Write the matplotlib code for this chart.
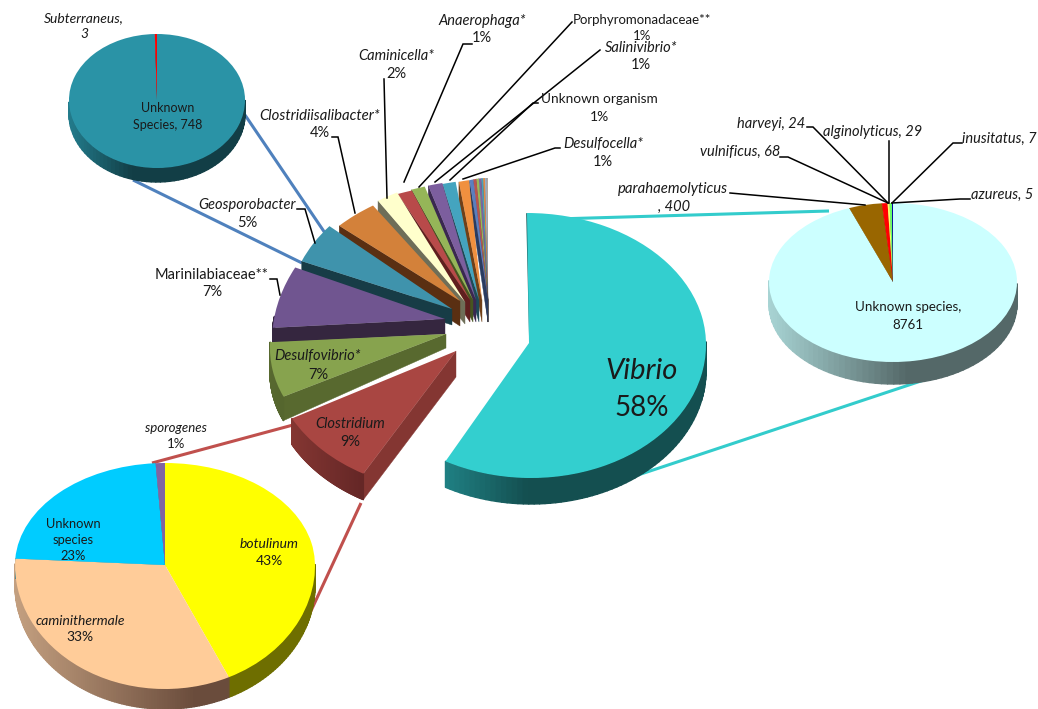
import numpy as np
import matplotlib
matplotlib.use('Agg')
import matplotlib.pyplot as plt
from matplotlib.collections import PolyCollection
from matplotlib.colors import to_rgb
from matplotlib.transforms import Affine2D, Transform

plt.rcParams['font.family'] = ['Lato', 'DejaVu Sans']

# main pie, clockwise from 12 o'clock
main_names = ['Vibrio', 'Clostridium', 'Desulfovibrio*', 'Marinilabiaceae**', 'Geosporobacter',
              'Clostridiisalibacter*', 'Caminicella*', 'Anaerophaga*', 'Porphyromonadaceae**',
              'Salinivibrio*', 'Unknown organism', 'Desulfocella*',
              'o1', 'o2', 'o3', 'o4', 'o5', 'o6', 'o7', 'o8']
main_values = [58, 9, 7, 7, 5, 4, 2, 1, 1, 1, 1, 1, 0.6, 0.5, 0.4, 0.4, 0.3, 0.3, 0.3, 0.2]
main_colors = ['#33CFCF', '#A94642', '#87A34E', '#705590', '#3F93AC', '#D3813A', '#FFFFCC',
               '#B84A4A', '#95B558', '#7C5E9E', '#44A4BF', '#F0903F',
               '#5B7FBF', '#B85450', '#98B957', '#7C64A0', '#46A0B8', '#E08A45', '#9DB0C8', '#B0A8A0']
main_walls = ['#1F7F82', '#843632', '#58692F', '#35263F', '#173C46', '#5A2F12', '#6E6E58',
              '#5F1F1F', '#46551F', '#3A2850', '#1E4A57', '#704018',
              '#2A3C60', '#5A2A28', '#4A5A2A', '#3C3050', '#22505C', '#704522', '#505868', '#585450']
main_walls_dark = ['#144F50', '#5F2424', '#46552A', '#2A1E34', '#173C46', '#5A2F12', '#6E6E58',
                   '#5F1F1F', '#46551F', '#3A2850', '#1E4A57', '#704018',
                   '#2A3C60', '#5A2A28', '#4A5A2A', '#3C3050', '#22505C', '#704522', '#505868', '#585450']

# each main slice sits on its own sheared ellipse (perspective fan)
fan_cx = [529, 456, 446, 445, 452, 460, 465, 470, 473, 476, 479, 482, 488, 488, 488, 488, 488, 488, 488, 488]
fan_cy = [343, 351, 334, 319, 309, 301, 302, 300, 300, 300, 300, 300, 300, 300, 300, 300, 300, 300, 300, 300]
fan_rx = [177, 185, 175, 171, 164, 170, 170, 228, 212, 223, 207, 159, 98, 98, 98, 98, 98, 98, 98, 98]
fan_skew = [-2, 4, 19, 25, 6, 16, 16, 43, 32, 37, 29, 17, 0, 0, 0, 0, 0, 0, 0, 0]
fan_up = [130, 140, 130, 140, 130, 118, 125, 121, 122, 123, 122, 122, 122, 122, 122, 122, 122, 122, 122, 122]
fan_down = [135, 140, 130, 140, 130, 118, 125, 121, 122, 123, 122, 122, 122, 122, 122, 122, 122, 122, 122, 122]
fan_depth = [26, 26, 24, 15, 15, 22, 20, 20, 20, 20, 20, 20, 20, 20, 20, 20, 20, 20, 20, 20]
fan_depth_in = [26, 26, 14, 15, 16, 25, 22, 22, 22, 22, 22, 22, 22, 22, 22, 22, 22, 22, 22, 22]

# Vibrio species counts
vibrio_values = [8761, 400, 68, 24, 29, 7, 5]
vibrio_colors = ['#CCFFFF', '#996600', '#FF0000', '#FFFF66', '#66FF66', '#000099', '#0000CC']
vibrio_walls = ['#A8D4D4', '#6A4800', '#880000', '#808030', '#308030', '#000050', '#000070']
vibrio_walls_dark = ['#546868', '#6A4800', '#880000', '#808030', '#308030', '#000050', '#000070']

# Clostridium species
clost_values = [43, 33, 23, 1]
clost_colors = ['#FFFF00', '#FFCC99', '#00CCFF', '#8064A2']
clost_walls = ['#6E6E00', '#C4A080', '#007090', '#403050']
clost_walls_dark = ['#6E6E00', '#6A4C3C', '#007090', '#403050']

# Geosporobacter species
geo_values = [748, 3]
geo_colors = ['#2A93A6', '#FF0000']
geo_walls = ['#237C8C', '#800000']
geo_walls_dark = ['#123E46', '#800000']

connector_teal = '#33CCCC'
connector_red = '#C0504D'
connector_blue = '#4F81BD'

# text, x, y, italic, size
labels = [
    ('Vibrio', 642, 371, True, 21), ('58%', 642, 408, False, 20),
    ('Clostridium', 350, 424, True, 10.5), ('9%', 350, 442, False, 10.5),
    ('Desulfovibrio*', 318, 356, True, 10.5), ('7%', 318, 375, False, 10.5),
    ('Marinilabiaceae**', 212, 275, False, 10.5), ('7%', 212, 292, False, 10.5),
    ('Geosporobacter', 247, 205, True, 10.5), ('5%', 247, 223, False, 10.5),
    ('Clostridiisalibacter*', 320, 116, True, 10.7), ('4%', 320, 133, False, 10.5),
    ('Caminicella*', 396, 56, True, 10.5), ('2%', 396, 74, False, 10.5),
    ('Anaerophaga*', 482, 21, True, 10.5), ('1%', 482, 38, False, 10.5),
    ('Porphyromonadaceae**', 642, 20, False, 9.5), ('1%', 642, 36, False, 9.5),
    ('Salinivibrio*', 641, 48, True, 10.5), ('1%', 641, 65, False, 10.5),
    ('Unknown organism', 599, 99, False, 9.8), ('1%', 599, 117, False, 10),
    ('Desulfocella*', 603, 144, True, 10.5), ('1%', 603, 162, False, 10.5),
    ('Subterraneus,', 84, 18, True, 10), ('3', 84, 34, True, 10),
    ('Unknown', 168, 108, False, 9), ('Species, 748', 168, 125, False, 9),
    ('parahaemolyticus', 673, 189, True, 10.7), (', 400', 674, 207, True, 10.5),
    ('vulnificus, 68', 740, 152, True, 10.5), ('harveyi, 24', 771, 124, True, 10.5),
    ('alginolyticus, 29', 873, 132, True, 10.5), ('inusitatus, 7', 999, 139, True, 10.5),
    ('azureus, 5', 1002, 195, True, 10.5),
    ('Unknown species,', 908, 307, False, 9.6), ('8761', 908, 325, False, 9.6),
    ('sporogenes', 176, 428, True, 9.5), ('1%', 176, 444, False, 9.5),
    ('botulinum', 269, 544, True, 10), ('43%', 269, 561, False, 10),
    ('caminithermale', 80, 621, True, 10), ('33%', 80, 637, False, 10),
    ('Unknown', 73, 524, False, 9.3), ('species', 73, 540, False, 9.3), ('23%', 73, 556, False, 9.3),
]

# leader lines as x list, y list
leaders = [
    ([297, 305, 315], [209, 209, 243]),
    ([270, 277, 280], [279, 279, 295]),
    ([332, 338, 355], [137, 137, 213]),
    ([384, 387], [79, 198]),
    ([472, 463, 404], [44, 44, 182]),
    ([572, 419], [22, 187]),
    ([600, 435], [50, 182]),
    ([538, 533, 450], [103, 103, 180]),
    ([560, 555, 463], [148, 148, 179]),
    ([730, 865], [193, 205]),
    ([780, 788, 888], [157, 157, 203]),
    ([807, 813, 888], [127, 127, 203]),
    ([889, 889], [141, 203]),
    ([962, 953, 892], [143, 143, 203]),
    ([970, 960, 892], [199, 199, 203]),
]

connectors = [
    ([556, 829], [219, 211], connector_teal),
    ([927, 638], [379, 475], connector_teal),
    ([293, 152], [425, 463], connector_red),
    ([361, 310], [503, 613], connector_red),
    ([245, 325], [115, 233], connector_blue),
    ([133, 302], [180, 263], connector_blue),
]


class SquashY(Transform):
    # different y scale above and below the centre, fakes the perspective
    input_dims = 2
    output_dims = 2

    def __init__(self, up, down):
        super().__init__()
        self.up = up
        self.down = down

    def transform_non_affine(self, values):
        xy = np.array(values, dtype=float)
        y = xy[:, 1]
        xy[:, 1] = np.where(y > 0, y * self.up, y * self.down)
        return xy


def edge_point(theta, cx, cy, rx, skew, up, down):
    th = np.radians(theta)
    s = np.sin(th)
    return cx + rx * np.cos(th) + skew * s, cy - s * np.where(s > 0, up, down)


def place_wedge(ax, w, wall, wall_dark, cx, cy, rx, skew, up, down, depth, depth_in, z, grad):
    shear = Affine2D(np.array([[rx, skew, 0], [0, 1, 0], [0, 0, 1]], dtype=float))
    w.set_transform(shear + SquashY(up, down) + Affine2D().scale(1, -1).translate(cx, cy) + ax.transData)
    w.set_zorder(z + 1)

    # flat wall along the clockwise start edge
    if np.cos(np.radians(w.theta2)) < -1e-6:
        ex, ey = edge_point(w.theta2, cx, cy, rx, skew, up, down)
        ax.fill([cx, ex, ex, cx], [cy, ey, ey + depth, cy + depth_in],
                color=wall, lw=0.3, zorder=z)

    # curved wall on the front half
    th = np.linspace(w.theta1, w.theta2, 120)
    th = th[np.sin(np.radians(th)) < 0.02]
    if len(th) < 2:
        return
    x, y = edge_point(th, cx, cy, rx, skew, up, down)
    start = np.array(to_rgb(wall))
    end = np.array(to_rgb(wall_dark))
    quads = []
    cols = []
    for i in range(len(th) - 1):
        quads.append([(x[i], y[i]), (x[i + 1], y[i + 1]),
                      (x[i + 1], y[i + 1] + depth), (x[i], y[i] + depth)])
        f = np.clip((x[i] - x.min()) / (grad * rx), 0, 1)
        cols.append(start + (end - start) * f)
    ax.add_collection(PolyCollection(quads, facecolors=cols, edgecolors=cols, linewidths=1.0, zorder=z))


def pie_3d(ax, values, colors, walls, walls_dark, cx, cy, rx, up, down, depth, z, grad):
    wedges, _ = ax.pie(values, colors=colors, startangle=90, counterclock=False,
                       wedgeprops={'linewidth': 0})
    for w, wall, dark in zip(wedges, walls, walls_dark):
        place_wedge(ax, w, wall, dark, cx, cy, rx, 0, up, down, depth, depth, z, grad)


fig = plt.figure(figsize=(10.38, 7.09), dpi=100)
ax = fig.add_axes([0, 0, 1, 1])

# exploded main pie
wedges, _ = ax.pie(main_values, colors=main_colors, startangle=90, counterclock=False,
                   wedgeprops={'linewidth': 0})
n = len(wedges)
for i, w in enumerate(wedges):
    place_wedge(ax, w, main_walls[i], main_walls_dark[i], fan_cx[i], fan_cy[i], fan_rx[i], fan_skew[i],
                fan_up[i], fan_down[i], fan_depth[i], fan_depth_in[i], 10 + (n - i) * 2, 0.45)

# dark rim on the left side of Vibrio
ax.plot([527, 530], [214, 343], color='#1F5F60', lw=1.2, zorder=9)

# the three breakout pies
pie_3d(ax, vibrio_values, vibrio_colors, vibrio_walls, vibrio_walls_dark, 893, 282, 124, 79, 80, 22, 6, 1.1)
pie_3d(ax, clost_values, clost_colors, clost_walls, clost_walls_dark, 165, 565, 150, 102, 124, 20, 6, 1.2)
pie_3d(ax, geo_values, geo_colors, geo_walls, geo_walls_dark, 157, 100, 88, 66, 68, 14, 6, 0.7)

for xs, ys, c in connectors:
    ax.plot(xs, ys, color=c, lw=2.2, zorder=5, solid_capstyle='butt')

for xs, ys in leaders:
    ax.plot(xs, ys, color='black', lw=1.1, zorder=60, solid_joinstyle='miter')

for txt, x, y, italic, size in labels:
    ax.text(x, y, txt, ha='center', va='center', fontsize=size, color='#1a1a1a',
            style='italic' if italic else 'normal', zorder=70)

ax.set_aspect('auto')
ax.set_xlim(0, 1038)
ax.set_ylim(709, 0)
ax.axis('off')

fig.savefig('out.png', dpi=100)
